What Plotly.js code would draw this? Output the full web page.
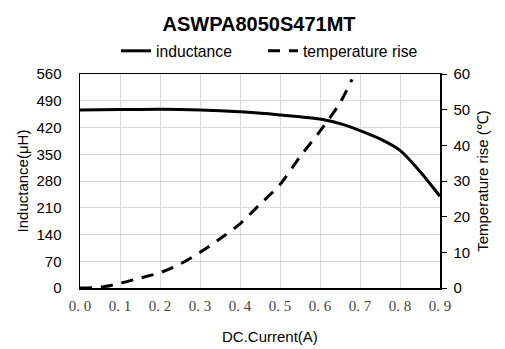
<!DOCTYPE html>
<html>
<head>
<meta charset="utf-8">
<script src="https://cdn.plot.ly/plotly-3.0.1.min.js"></script>
<style>html,body{margin:0;padding:0;background:#fff;}#chart{width:505px;height:349px;}</style>
</head>
<body>
<div id="chart"></div>
<script>
const indCurrent = [0.0, 0.1, 0.2, 0.3, 0.4, 0.5, 0.55, 0.6, 0.65, 0.7, 0.75, 0.8, 0.85, 0.9];
const inductance = [466, 467, 468, 466, 461, 453, 448, 442, 430, 412, 390, 360, 305, 240];
const tempCurrent = [0.0, 0.05, 0.1, 0.15, 0.2, 0.25, 0.3, 0.35, 0.4, 0.45, 0.5, 0.55, 0.6, 0.65, 0.68];
const tempRise = [0, 0.2, 1.3, 2.8, 4.3, 6.7, 10, 13.8, 18, 23.5, 29, 36.8, 44, 51.9, 58.5];
const xTickVals = [0, 0.1, 0.2, 0.3, 0.4, 0.5, 0.6, 0.7, 0.8, 0.9];
const xTickText = ["0. 0", "0. 1", "0. 2", "0. 3", "0. 4", "0. 5", "0. 6", "0. 7", "0. 8", "0. 9"];
const yTickVals = [0, 70, 140, 210, 280, 350, 420, 490, 560];
const y2TickVals = [0, 10, 20, 30, 40, 50, 60];

const traces = [
  {x: indCurrent, y: inductance, name: "inductance", type: "scatter", mode: "lines",
   line: {color: "#000", width: 3, shape: "spline", smoothing: 0.8}, yaxis: "y", legend: "legend"},
  {x: tempCurrent, y: tempRise, name: "temperature rise", type: "scatter", mode: "lines",
   line: {color: "#000", width: 3, dash: "12px,9px", shape: "spline", smoothing: 0.8}, yaxis: "y2", legend: "legend2"}
];

const legendCommon = {orientation: "h", yanchor: "middle", xanchor: "left",
  font: {size: 15.7}, bgcolor: "rgba(0,0,0,0)"};

const layout = {
  width: 505, height: 349,
  margin: {l: 80, r: 65, t: 74, b: 61},
  paper_bgcolor: "#fff", plot_bgcolor: "#fff",
  font: {family: "Liberation Sans, Arial, sans-serif", color: "#000", size: 15},
  title: {text: "<b>ASWPA8050S471MT</b>", x: 0.513, xanchor: "center", y: 0.93, yanchor: "middle",
          font: {size: 20, family: "Liberation Sans, Arial, sans-serif", color: "#000"}},
  showlegend: true,
  legend: Object.assign({}, legendCommon, {x: (116 - 80) / 360, y: 1.107}),
  legend2: Object.assign({}, legendCommon, {x: (263 - 80) / 360, y: 1.107}),
  annotations: [{text: "DC.Current(A)", xref: "paper", yref: "paper",
                 x: (270 - 80) / 360, y: -(336 - 288) / 214, xanchor: "center", yanchor: "middle",
                 showarrow: false, font: {size: 15, color: "#000"}}],
  xaxis: {range: [0, 0.9], tickvals: xTickVals, ticktext: xTickText,
          showgrid: true, gridcolor: "#d9d9d9", gridwidth: 1,
          showline: true, linecolor: "#000", linewidth: 1.5, mirror: true,
          ticks: "outside", ticklen: 3, tickcolor: "rgba(0,0,0,0)",
          tickfont: {family: "Liberation Serif, DejaVu Serif, serif", size: 15, color: "#444"},
          zeroline: false},
  yaxis: {range: [0, 560], tickvals: yTickVals, showgrid: true, gridcolor: "#d9d9d9", gridwidth: 1,
          showline: true, linecolor: "#000", linewidth: 1.5,
          ticks: "outside", ticklen: 14, tickcolor: "rgba(0,0,0,0)",
          tickfont: {size: 15}, zeroline: false,
          title: {text: "Inductance(μH)", standoff: 4, font: {size: 15}}},
  yaxis2: {range: [0, 60], tickvals: y2TickVals, overlaying: "y", side: "right",
           showgrid: false, showline: true, linecolor: "#000", linewidth: 1.5,
           ticks: "outside", ticklen: 5, tickcolor: "#000", tickwidth: 1,
           ticklabelstandoff: 4,
           tickfont: {size: 15}, zeroline: false,
           title: {text: "Temperature rise (℃)", standoff: 8, font: {size: 15}}}
};

Plotly.newPlot("chart", traces, layout, {displayModeBar: false, staticPlot: true});
</script>
</body>
</html>
